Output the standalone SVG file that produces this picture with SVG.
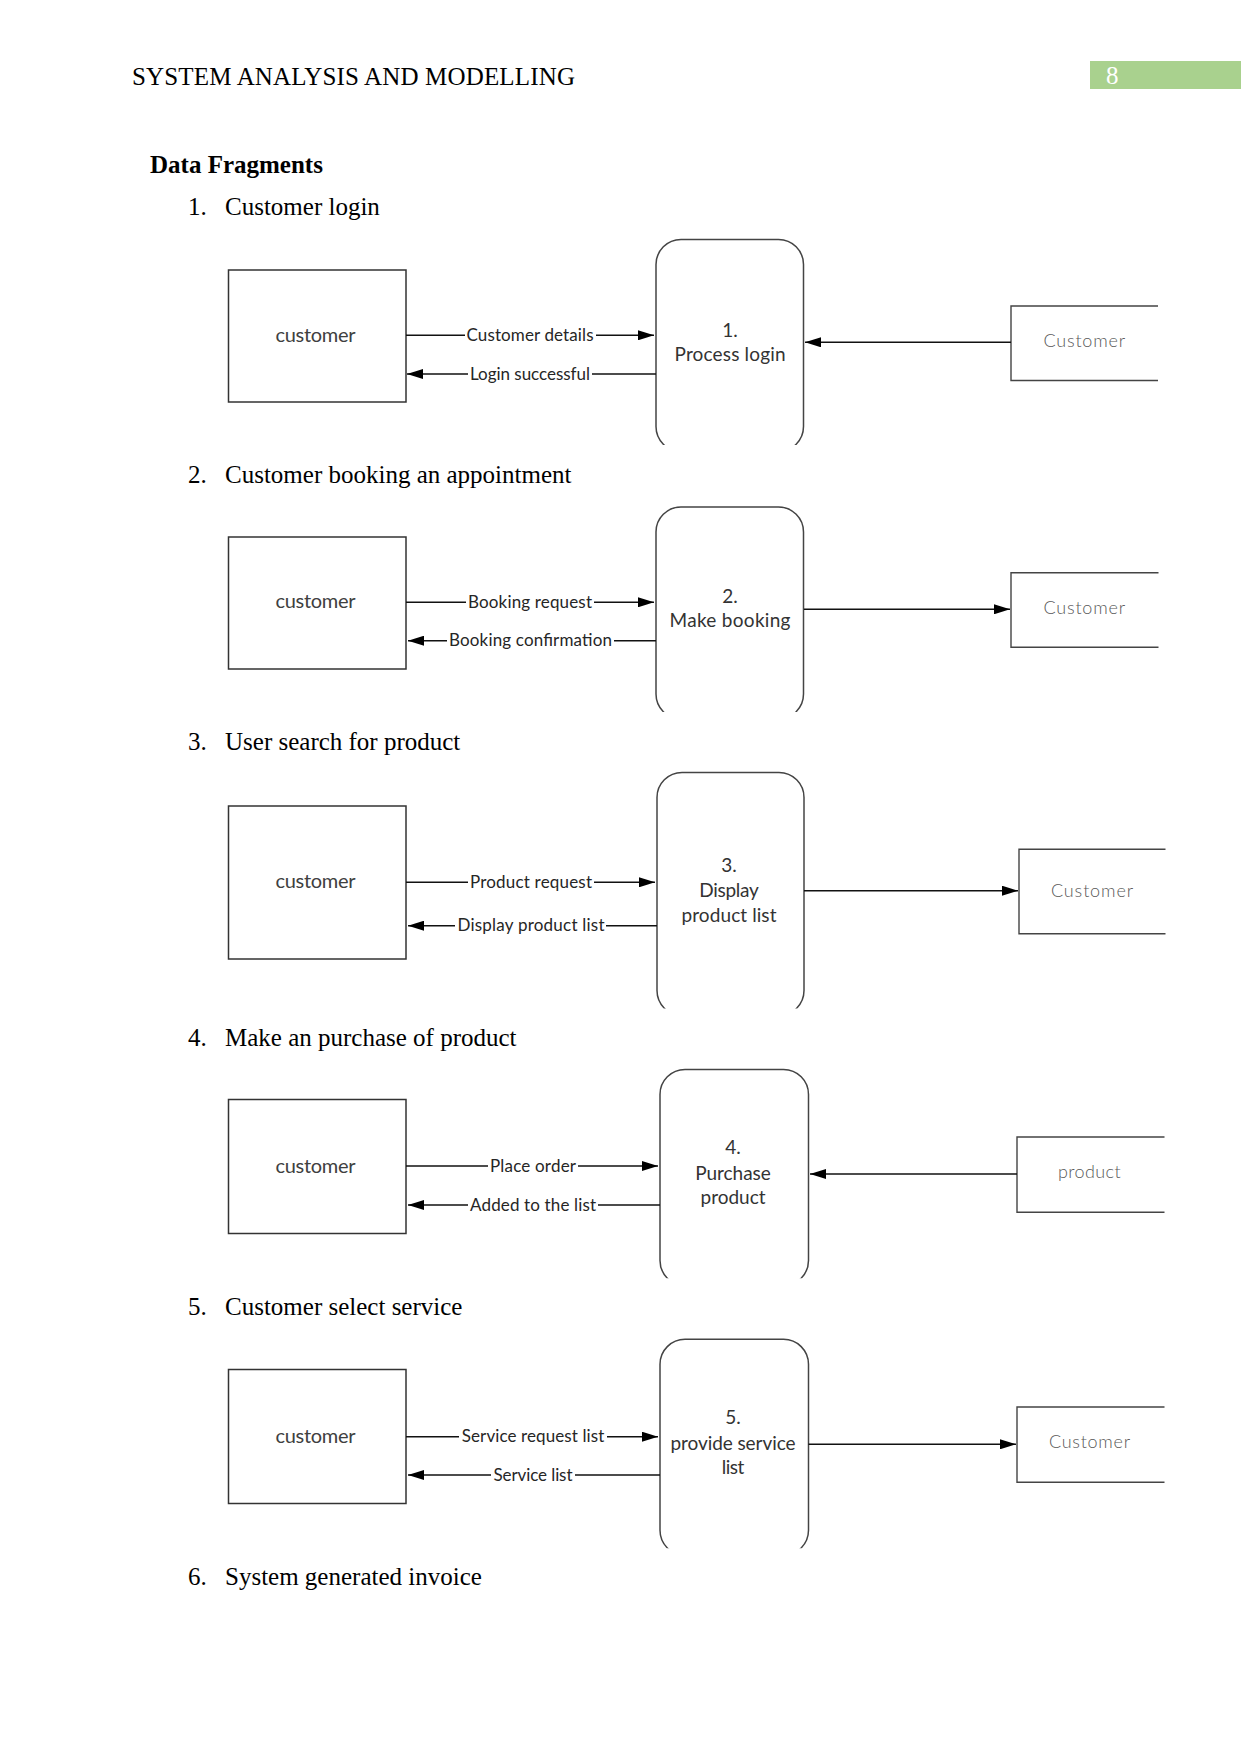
<svg xmlns="http://www.w3.org/2000/svg" width="1241" height="1754" viewBox="0 0 1241 1754">
<style>
.doc{font-family:"Liberation Serif","Times New Roman",serif;font-size:25px;fill:#000}
.hdr{font-family:"Liberation Serif","Times New Roman",serif;font-size:25px;fill:#000}
.ext{fill:#fff;stroke:#333;stroke-width:1.5}
.ext-t{font-family:Lato,"Open Sans",sans-serif;font-size:20px;fill:#404040;text-anchor:middle}
.proc{fill:#fff;stroke:#444;stroke-width:1.5}
.proc-t{font-family:Lato,"Open Sans",sans-serif;font-size:19px;fill:#333;text-anchor:middle}
.store{fill:none;stroke:#444;stroke-width:1.4}
.store-t{font-family:Lato,"Open Sans",sans-serif;font-size:18px;font-weight:300;fill:#595959}
.flow{stroke:#111;stroke-width:1.4;fill:none;marker-end:url(#ah)}
.lbl-bg{fill:#fff}
.lbl{font-family:Lato,"Open Sans",sans-serif;font-size:17px;fill:#262626;text-anchor:middle}
</style>
<defs>
<marker id="ah" markerWidth="16" markerHeight="10" refX="16" refY="5" orient="auto" markerUnits="userSpaceOnUse">
<path d="M0,0 L16,5 L0,10 z" fill="#000"/>
</marker>
<clipPath id="cp1" clipPathUnits="userSpaceOnUse"><rect x="640" y="230" width="190" height="215"/></clipPath>
<clipPath id="cp2" clipPathUnits="userSpaceOnUse"><rect x="640" y="495" width="190" height="217"/></clipPath>
<clipPath id="cp3" clipPathUnits="userSpaceOnUse"><rect x="640" y="760" width="190" height="248.5"/></clipPath>
<clipPath id="cp4" clipPathUnits="userSpaceOnUse"><rect x="640" y="1050" width="190" height="228.3"/></clipPath>
<clipPath id="cp5" clipPathUnits="userSpaceOnUse"><rect x="640" y="1320" width="190" height="228.3"/></clipPath>
</defs>
<rect width="1241" height="1754" fill="#fff"/>

<g id="page-header">
<text class="hdr" x="132" y="85" textLength="443">SYSTEM ANALYSIS AND MODELLING</text>
<rect x="1090" y="61" width="151" height="28" fill="#a9d18e"/>
<text class="hdr" x="1106" y="84" style="fill:#fff">8</text>
</g>

<g id="headings">
<text class="doc" x="150" y="173" font-weight="bold">Data Fragments</text>
<text class="doc" x="188" y="215">1.</text><text class="doc" x="225" y="215">Customer login</text>
<text class="doc" x="188" y="483">2.</text><text class="doc" x="225" y="483">Customer booking an appointment</text>
<text class="doc" x="188" y="750">3.</text><text class="doc" x="225" y="750">User search for product</text>
<text class="doc" x="188" y="1046">4.</text><text class="doc" x="225" y="1046">Make an purchase of product</text>
<text class="doc" x="188" y="1315">5.</text><text class="doc" x="225" y="1315">Customer select service</text>
<text class="doc" x="188" y="1585">6.</text><text class="doc" x="225" y="1585">System generated invoice</text>
</g>

<!-- Diagram 1 -->
<g id="d1-customer"><rect class="ext" x="228.5" y="270" width="177.5" height="132"/><text class="ext-t" x="315.5" y="341.7" textLength="80">customer</text></g>
<g id="d1-process"><rect class="proc" x="656" y="239.5" width="147.5" height="212" rx="25" clip-path="url(#cp1)"/><text class="proc-t" x="730" y="336.7">1.</text><text class="proc-t" x="730" y="360.7" textLength="111">Process login</text></g>
<g id="d1-store"><path class="store" d="M1158,306 H1011 V380.5 H1158"/><text class="store-t" x="1043.5" y="347.3" textLength="81.5">Customer</text></g>

<!-- Diagram 2 -->
<g id="d2-customer"><rect class="ext" x="228.5" y="537" width="177.5" height="132"/><text class="ext-t" x="315.5" y="608.3" textLength="80">customer</text></g>
<g id="d2-process"><rect class="proc" x="656" y="507" width="147.5" height="212" rx="25" clip-path="url(#cp2)"/><text class="proc-t" x="730" y="603.3">2.</text><text class="proc-t" x="730" y="626.7" textLength="121">Make booking</text></g>
<g id="d2-store"><path class="store" d="M1158.5,572.7 H1011 V647.3 H1158.5"/><text class="store-t" x="1043.5" y="614.3" textLength="81.5">Customer</text></g>

<!-- Diagram 3 -->
<g id="d3-customer"><rect class="ext" x="228.5" y="806" width="177.5" height="153"/><text class="ext-t" x="315.5" y="888.3" textLength="80">customer</text></g>
<g id="d3-process"><rect class="proc" x="657" y="772.5" width="147" height="243" rx="25" clip-path="url(#cp3)"/><text class="proc-t" x="729" y="871.7">3.</text><text class="proc-t" x="729" y="896.7" textLength="59.5">Display</text><text class="proc-t" x="729" y="921.7" textLength="95">product list</text></g>
<g id="d3-store"><path class="store" d="M1165.5,849.3 H1019 V933.7 H1165.5"/><text class="store-t" x="1051" y="896.7" textLength="82">Customer</text></g>

<!-- Diagram 4 -->
<g id="d4-customer"><rect class="ext" x="228.5" y="1099.5" width="177.5" height="134"/><text class="ext-t" x="315.5" y="1172.7" textLength="80">customer</text></g>
<g id="d4-process"><rect class="proc" x="660" y="1069.5" width="148.5" height="216" rx="25" clip-path="url(#cp4)"/><text class="proc-t" x="733" y="1154">4.</text><text class="proc-t" x="733" y="1180" textLength="75.6">Purchase</text><text class="proc-t" x="733" y="1204" textLength="65">product</text></g>
<g id="d4-store"><path class="store" d="M1164.5,1137 H1017 V1212.3 H1164.5"/><text class="store-t" x="1058" y="1178.3" textLength="62.6">product</text></g>

<!-- Diagram 5 -->
<g id="d5-customer"><rect class="ext" x="228.5" y="1369.5" width="177.5" height="134"/><text class="ext-t" x="315.5" y="1442.7" textLength="80">customer</text></g>
<g id="d5-process"><rect class="proc" x="660" y="1339.3" width="148.5" height="216" rx="25" clip-path="url(#cp5)"/><text class="proc-t" x="733" y="1424">5.</text><text class="proc-t" x="733" y="1450" textLength="125">provide service</text><text class="proc-t" x="733" y="1474" textLength="22.6">list</text></g>
<g id="d5-store"><path class="store" d="M1164.5,1407 H1017 V1482.3 H1164.5"/><text class="store-t" x="1049" y="1448.3" textLength="81">Customer</text></g>

<g id="connectors">
<line class="flow" x1="406" y1="335.3" x2="654" y2="335.3"/>
<rect class="lbl-bg" x="465" y="328" width="131" height="15"/><text class="lbl" x="530" y="340.8" textLength="127">Customer details</text>
<line class="flow" x1="656" y1="374" x2="407" y2="374"/>
<rect class="lbl-bg" x="468" y="367" width="124" height="15"/><text class="lbl" x="530" y="379.5" textLength="120">Login successful</text>
<line class="flow" x1="1011" y1="342.3" x2="805" y2="342.3"/>

<line class="flow" x1="406" y1="602.3" x2="654" y2="602.3"/>
<rect class="lbl-bg" x="466" y="595" width="128" height="15"/><text class="lbl" x="530" y="608" textLength="124">Booking request</text>
<line class="flow" x1="656" y1="640.7" x2="408" y2="640.7"/>
<rect class="lbl-bg" x="447" y="633" width="167" height="15"/><text class="lbl" x="530.5" y="646.4" textLength="163">Booking confirmation</text>
<line class="flow" x1="804" y1="609.3" x2="1010" y2="609.3"/>

<line class="flow" x1="406" y1="882.3" x2="655" y2="882.3"/>
<rect class="lbl-bg" x="468" y="875" width="126" height="15"/><text class="lbl" x="531" y="888" textLength="122">Product request</text>
<line class="flow" x1="657" y1="925.7" x2="408" y2="925.7"/>
<rect class="lbl-bg" x="455" y="918" width="151" height="15"/><text class="lbl" x="531" y="931.4" textLength="147">Display product list</text>
<line class="flow" x1="804" y1="890.7" x2="1018" y2="890.7"/>

<line class="flow" x1="406" y1="1166" x2="658" y2="1166"/>
<rect class="lbl-bg" x="488" y="1159" width="90" height="15"/><text class="lbl" x="533" y="1171.5" textLength="86">Place order</text>
<line class="flow" x1="660" y1="1205" x2="408" y2="1205"/>
<rect class="lbl-bg" x="468" y="1198" width="130" height="15"/><text class="lbl" x="533" y="1210.5" textLength="126">Added to the list</text>
<line class="flow" x1="1017" y1="1174" x2="810" y2="1174"/>

<line class="flow" x1="406" y1="1436.7" x2="658" y2="1436.7"/>
<rect class="lbl-bg" x="459" y="1429" width="148" height="15"/><text class="lbl" x="533" y="1442.4" textLength="142.5">Service request list</text>
<line class="flow" x1="660" y1="1475" x2="408" y2="1475"/>
<rect class="lbl-bg" x="491" y="1468" width="84" height="15"/><text class="lbl" x="533" y="1480.5" textLength="79">Service list</text>
<line class="flow" x1="808.5" y1="1444.3" x2="1016" y2="1444.3"/>
</g>
</svg>
